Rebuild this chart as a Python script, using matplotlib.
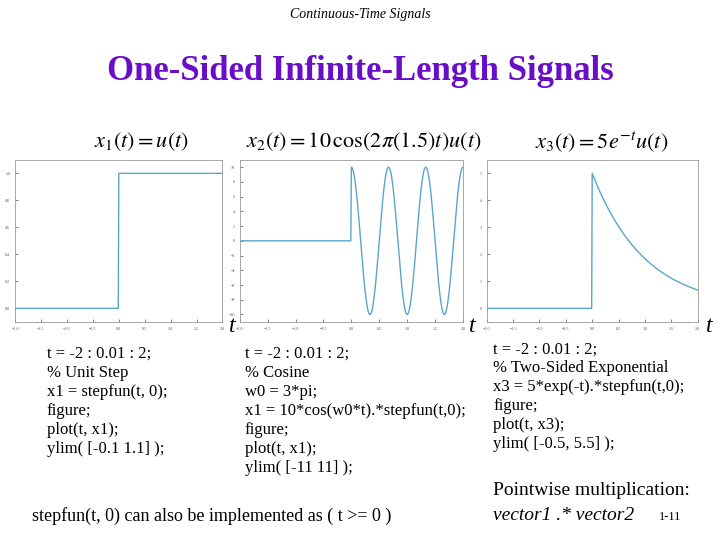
import numpy as np
import matplotlib
matplotlib.use("Agg")
import matplotlib.pyplot as plt

plt.rcParams['font.family'] = ['Liberation Serif', 'DejaVu Serif']
plt.rcParams['mathtext.fontset'] = 'stix'

t_start, t_step, t_end = -2, 0.01, 2
cos_amp, cos_freq = 10, 1.5
exp_amp = 5
ylims = [(-0.1, 1.1), (-11, 11), (-0.5, 5.5)]
xticks = [-2, -1.5, -1, -0.5, 0, 0.5, 1, 1.5, 2]
yticks = [[0, 0.2, 0.4, 0.6, 0.8, 1], [-10, -8, -6, -4, -2, 0, 2, 4, 6, 8, 10], [0, 1, 2, 3, 4, 5]]

t = np.arange(t_start, t_end + t_step / 2, t_step)
u = (t >= 0).astype(float)
x1 = u
x2 = cos_amp * np.cos(2 * np.pi * cos_freq * t) * u
x3 = exp_amp * np.exp(-t) * u

fig = plt.figure(figsize=(7.2, 5.4), dpi=100)
fig.text(0.5, 0.974, 'Continuous-Time Signals', ha='center', va='center', fontsize=10, style='italic')
fig.text(0.5, 0.867, 'One-Sided Infinite-Length Signals', ha='center', va='center',
         fontsize=25, weight='bold', color='#6A0DC8')

rects = [(0.021, 0.404, 0.288, 0.300), (0.333, 0.404, 0.310, 0.300), (0.676, 0.404, 0.293, 0.300)]
labels = [r'$x_1(t) = u(t)$', r'$x_2(t) = 10\,\cos(2\pi(1.5)t)u(t)$', r'$x_3(t) = 5e^{-t}u(t)$']
label_x = [0.197, 0.505, 0.835]
t_x = [232, 472, 709]
for i, (r, y) in enumerate(zip(rects, [x1, x2, x3])):
    ax = fig.add_axes(r)
    ax.plot(t, y, color='#5aa6c8', lw=1)
    ax.set_xlim(-2, 2)
    ax.set_ylim(*ylims[i])
    ax.set_xticks(xticks)
    ax.set_yticks(yticks[i])
    ax.tick_params(labelsize=3, length=2, width=0.5, colors='#555555', direction='in')
    for s in ax.spines.values():
        s.set_color('#999999'); s.set_linewidth(0.6)
    fig.text(label_x[i], 0.737, labels[i], ha='center', va='center', fontsize=16)
    fig.text(t_x[i] / 720, 0.395, 't', ha='center', va='center', fontsize=17, style='italic')

code_font = 12
fig.text(0.065, 0.36, 't = -2 : 0.01 : 2;\n% Unit Step\nx1 = stepfun(t, 0);\nfigure;\nplot(t, x1);\nylim( [-0.1 1.1] );',
         ha='left', va='top', fontsize=code_font, linespacing=1.25)
fig.text(0.34, 0.36, 't = -2 : 0.01 : 2;\n% Cosine\nw0 = 3*pi;\nx1 = 10*cos(w0*t).*stepfun(t,0);\nfigure;\nplot(t, x1);\nylim( [-11 11] );',
         ha='left', va='top', fontsize=code_font, linespacing=1.25)
fig.text(0.685, 0.368, 't = -2 : 0.01 : 2;\n% Two-Sided Exponential\nx3 = 5*exp(-t).*stepfun(t,0);\nfigure;\nplot(t, x3);\nylim( [-0.5, 5.5] );',
         ha='left', va='top', fontsize=code_font, linespacing=1.25)
fig.text(0.045, 0.045, 'stepfun(t, 0) can also be implemented as ( t >= 0 )', ha='left', va='center', fontsize=13)
fig.text(0.685, 0.092, 'Pointwise multiplication:', ha='left', va='center', fontsize=14)
fig.text(0.685, 0.045, 'vector1 .* vector2', ha='left', va='center', fontsize=14, style='italic')
fig.text(0.915, 0.042, '1-11', ha='left', va='center', fontsize=9)

fig.savefig('out.png', dpi=100)
